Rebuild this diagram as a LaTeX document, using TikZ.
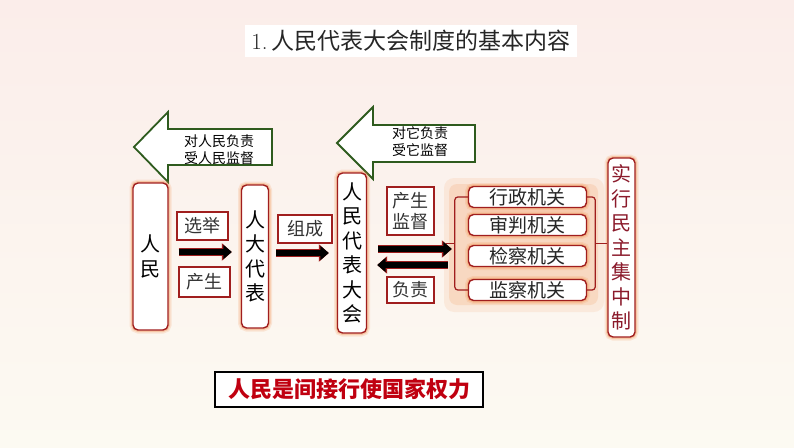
\documentclass[tikz,border=0pt]{standalone}
\usepackage{fontspec}
\newfontfamily\cjk{Noto Sans CJK SC}
\usetikzlibrary{arrows.meta,calc}
\definecolor{bdred}{HTML}{A01E1E}
\definecolor{glowor}{HTML}{F39250}
\definecolor{arrgreen}{HTML}{2E5B1E}
\definecolor{txtred}{HTML}{8B1A2B}
\definecolor{boldred}{HTML}{C00010}
\definecolor{bgtop}{HTML}{FBEDEA}
\definecolor{bgbot}{HTML}{FCFAF2}
\tikzset{
  glow/.style={preaction={draw=glowor, line width=7pt, opacity=0.18},
               preaction={draw=glowor, line width=4pt, opacity=0.35}},
  redbox/.style={glow, draw=bdred, line width=1.4pt, rounded corners=5pt, fill=white,
                 inner sep=0pt, align=center, font=\cjk\fontsize{20}{24.5}\selectfont},
  labelbox/.style={draw=bdred, line width=1.2pt, fill=white, inner sep=0pt, align=center,
                 text=black!80, font=\cjk\fontsize{18}{22}\selectfont},
  orgbox/.style={glow, draw=bdred, line width=1.4pt, rounded corners=5pt, fill=white,
                 inner sep=0pt, minimum width=118pt, minimum height=21pt,
                 text=black!85, font=\cjk\fontsize{19}{20}\selectfont},
  fatarrow/.style={preaction={draw=bdred, line width=8.5pt, -{Triangle[length=10pt,width=17pt]}},
                 draw=black, line width=6pt, -{Triangle[length=8.5pt,width=14pt]}},
  greenarrow/.style={draw=arrgreen, line width=1.8pt, fill=white, line join=miter},
  bracket/.style={draw=bdred, line width=1.2pt, rounded corners=3pt},
}
\begin{document}
\begin{tikzpicture}[x=1pt,y=-1pt]
\useasboundingbox (0,0) rectangle (794,447);
\shade[top color=bgtop, bottom color=bgbot] (0,0) rectangle (794,447);
% title
\node[fill=white, minimum width=332pt, minimum height=32pt, inner sep=0pt,
      font=\fontsize{23}{24}\selectfont, text=black!85] (title) at (411,41)
  {1.\,{\cjk 人民代表大会制度的基本内容}};
% green arrows
\draw[greenarrow] (272,129) -- (168,129) -- (168,112) -- (134,147) -- (168,182) -- (168,165) -- (272,165) -- cycle;
\node[align=center, font=\cjk\fontsize{14}{17}\selectfont] (ga1) at (219,150) {对人民负责\\受人民监督};
\draw[greenarrow] (475,125) -- (373,125) -- (373,107) -- (337,143) -- (373,179) -- (373,162) -- (475,162) -- cycle;
\node[align=center, font=\cjk\fontsize{14}{17}\selectfont] (ga2) at (420,142) {对它负责\\受它监督};
% main boxes
\node[redbox, minimum width=35pt, minimum height=147pt] (rm) at (150.5,256.5) {人\\民};
\node[redbox, minimum width=27pt, minimum height=143pt] (rddb) at (255,256.5) {人\\大\\代\\表};
\node[redbox, minimum width=29pt, minimum height=160pt] (rdh) at (352,253) {人\\民\\代\\表\\大\\会};
% label boxes
\node[labelbox, minimum width=51pt, minimum height=28pt] (xj) at (202.5,226) {选举};
\node[labelbox, minimum width=51pt, minimum height=30pt] (cs) at (204.5,282) {产生};
\node[labelbox, minimum width=54pt, minimum height=28pt] (zc) at (305,229) {组成};
\node[labelbox, minimum width=47pt, minimum height=48pt, font=\cjk\fontsize{18}{21}\selectfont] (csjd) at (410.5,211) {产生\\监督};
\node[labelbox, minimum width=47pt, minimum height=26pt] (fz) at (410.5,290) {负责};
% group glow
\fill[glowor, opacity=0.12, rounded corners=10pt] (444,178) rectangle (604,312);
\fill[glowor, opacity=0.18, rounded corners=8pt] (449,184) rectangle (598,305);
% organ boxes
\node[orgbox] (o1) at (527.5,197) {行政机关};
\node[orgbox] (o2) at (527.5,225) {审判机关};
\node[orgbox] (o3) at (527.5,256) {检察机关};
\node[orgbox] (o4) at (527.5,290) {监察机关};
\node[redbox, minimum width=27pt, minimum height=179pt, text=txtred] (mz) at (621.5,247.5) {实\\行\\民\\主\\集\\中\\制};
% brackets
\draw[bracket] (o1.west) -- ++(-13,0) coordinate (bl1) -- (bl1 |- o4.west) -- (o4.west);
\coordinate (blm) at ($(bl1)!0.5!(bl1 |- o4.west)$);
\draw[bdred, line width=1.2pt] (blm) -- ++(-9,0);
\draw[bracket] (o1.east) -- ++(8,0) coordinate (br1) -- (br1 |- o4.east) -- (o4.east);
\coordinate (brm) at ($(br1)!0.5!(br1 |- o4.east)$);
\draw[bdred, line width=1.2pt] (brm) -- (brm -| mz.west);
% fat arrows
\draw[fatarrow, shorten <=10pt, shorten >=9pt] (rm.east |- 0,252) -- (rddb.west |- 0,252);
\draw[fatarrow, shorten <=7pt, shorten >=8pt] (rddb.east |- 0,253) -- (rdh.west |- 0,253);
\draw[fatarrow, shorten <=11pt, shorten >=3pt] (rdh.east |- 0,249) -- (blm |- 0,249);
\draw[fatarrow, shorten <=7pt, shorten >=10pt] (blm |- 0,265) -- (rdh.east |- 0,265);
% bottom statement
\node[draw=black, line width=2pt, fill=white, minimum width=268pt, minimum height=35pt,
      inner sep=0pt, text=boldred, font=\cjk\bfseries\fontsize{22}{24}\selectfont] (stmt) at (349,389.5)
  {人民是间接行使国家权力};
\end{tikzpicture}
\end{document}
